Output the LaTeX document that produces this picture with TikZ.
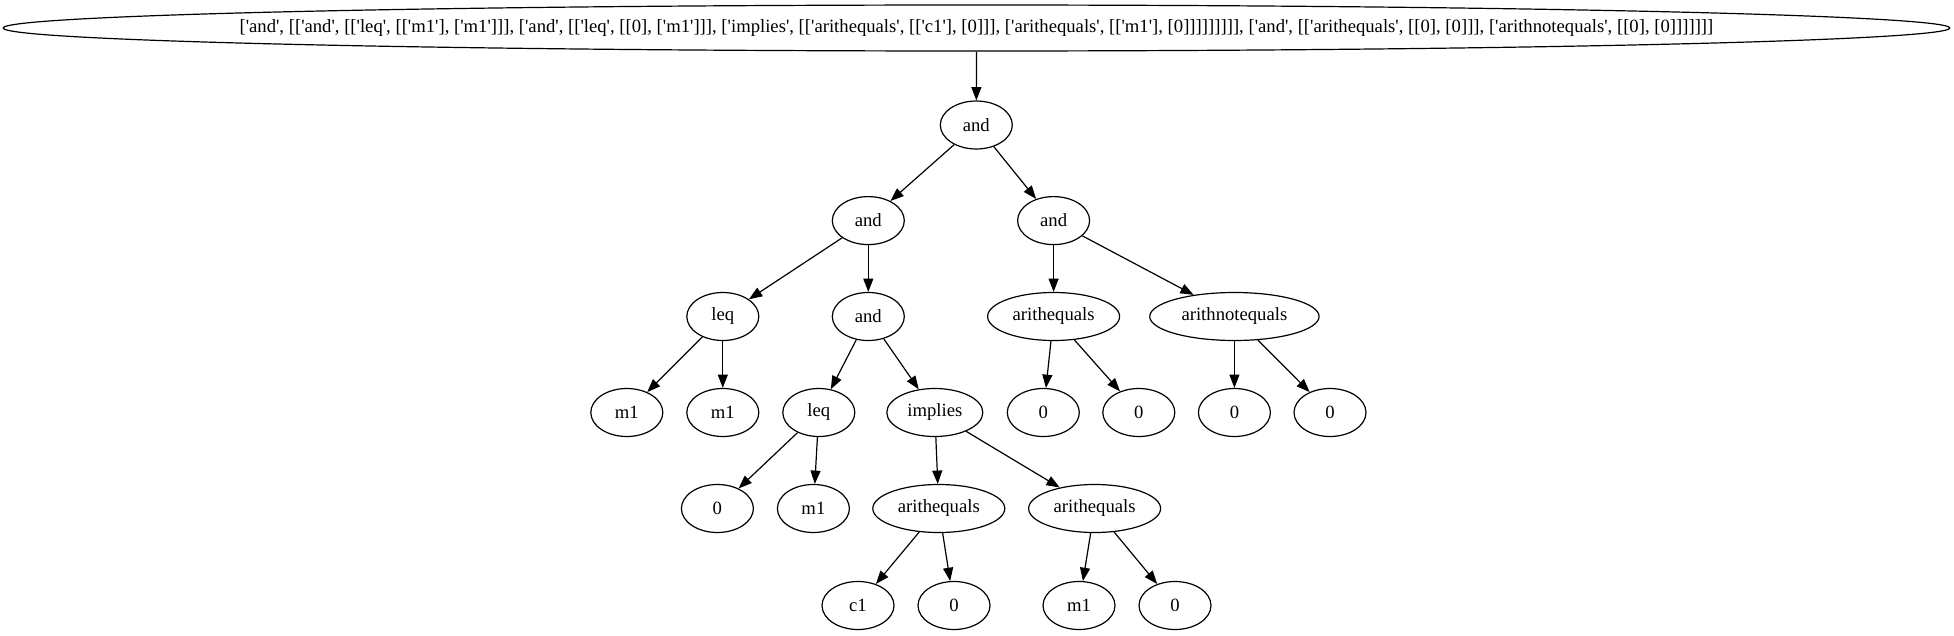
\documentclass[tikz,border=0pt]{standalone}
\usepackage{fontspec}
\setmainfont{Liberation Serif}[Ligatures=TeXOff]
\usetikzlibrary{arrows.meta,shapes.geometric}
\newcommand{\zb}[1]{\makebox[0pt]{#1}}
\begin{document}
\begin{tikzpicture}[x=0.75pt,y=-0.75pt,
  gv/.style={ellipse, draw, line width=0.9pt, inner sep=0pt, minimum height=36pt, minimum width=54pt, font=\fontsize{14}{16}\selectfont},
  edge/.style={-{Triangle[length=10pt,width=7.5pt]}, line width=0.9pt}]
\useasboundingbox (0,0) rectangle (1954,635);
\node[gv, minimum width=1460pt, minimum height=34.5pt] (top) at (976.5,28) {\zb{['and', [['and', [['leq', [['m1'], ['m1']]], ['and', [['leq', [[0], ['m1']]], ['implies', [['arithequals', [['c1'], [0]]], ['arithequals', [['m1'], [0]]]]]]]]], ['and', [['arithequals', [[0], [0]]], ['arithnotequals', [[0], [0]]]]]]]}};
\node[gv] (r) at (976.3,125) {\zb{and}};
\node[gv] (a1) at (868.3,220.6) {\zb{and}};
\node[gv] (a2) at (1053.6,220.6) {\zb{and}};
\node[gv] (leq1) at (722.8,316.5) {\zb{leq}};
\node[gv] (and3) at (868.3,316.5) {\zb{and}};
\node[gv, minimum width=99pt] (aeq1) at (1053.6,316.5) {\zb{arithequals}};
\node[gv, minimum width=127pt] (aneq) at (1234.4,316.5) {\zb{arithnotequals}};
\node[gv] (m1a) at (626.8,412.5) {\zb{m1}};
\node[gv] (m1b) at (722.8,412.5) {\zb{m1}};
\node[gv] (leq2) at (818.8,412.5) {\zb{leq}};
\node[gv, minimum width=72pt] (imp) at (934.8,412.5) {\zb{implies}};
\node[gv] (z1) at (1043.3,412.5) {\zb{0}};
\node[gv] (z2) at (1138.8,412.5) {\zb{0}};
\node[gv] (z3) at (1234.4,412.5) {\zb{0}};
\node[gv] (z4) at (1330,412.5) {\zb{0}};
\node[gv] (z5) at (717.4,508.5) {\zb{0}};
\node[gv] (m1c) at (813.4,508.5) {\zb{m1}};
\node[gv, minimum width=99pt] (aeq2) at (938.8,508.5) {\zb{arithequals}};
\node[gv, minimum width=99pt] (aeq3) at (1094.6,508.5) {\zb{arithequals}};
\node[gv] (c1) at (858,605.5) {\zb{c1}};
\node[gv] (z6) at (954,605.5) {\zb{0}};
\node[gv] (m1d) at (1079,605.5) {\zb{m1}};
\node[gv] (z7) at (1175,605.5) {\zb{0}};
\draw[edge] (top) -- (r);
\draw[edge] (r) -- (a1);
\draw[edge] (r) -- (a2);
\draw[edge] (a1) -- (leq1);
\draw[edge] (a1) -- (and3);
\draw[edge] (a2) -- (aeq1);
\draw[edge] (a2) -- (aneq);
\draw[edge] (leq1) -- (m1a);
\draw[edge] (leq1) -- (m1b);
\draw[edge] (and3) -- (leq2);
\draw[edge] (and3) -- (imp);
\draw[edge] (aeq1) -- (z1);
\draw[edge] (aeq1) -- (z2);
\draw[edge] (aneq) -- (z3);
\draw[edge] (aneq) -- (z4);
\draw[edge] (leq2) -- (z5);
\draw[edge] (leq2) -- (m1c);
\draw[edge] (imp) -- (aeq2);
\draw[edge] (imp) -- (aeq3);
\draw[edge] (aeq2) -- (c1);
\draw[edge] (aeq2) -- (z6);
\draw[edge] (aeq3) -- (m1d);
\draw[edge] (aeq3) -- (z7);
\end{tikzpicture}
\end{document}
